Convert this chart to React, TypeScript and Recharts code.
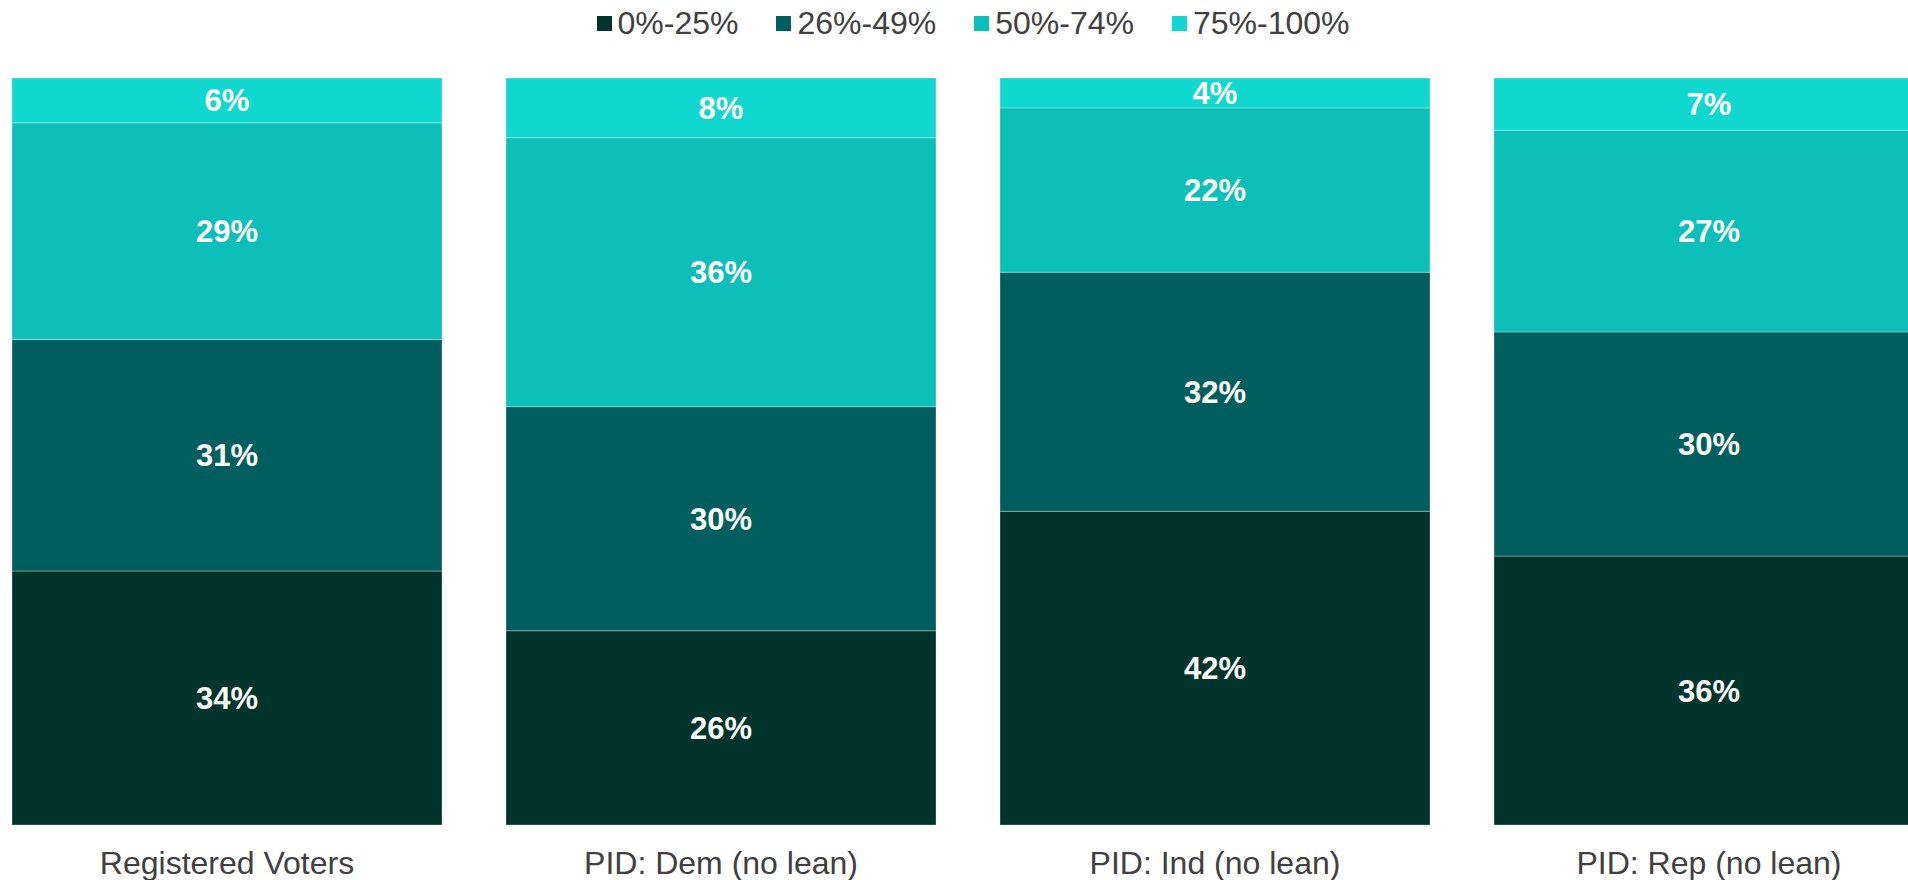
import { BarChart, Bar, XAxis, YAxis, Legend, LabelList } from 'recharts';

const groups = ['Registered Voters', 'PID: Dem (no lean)', 'PID: Ind (no lean)', 'PID: Rep (no lean)'];
const share0to25 = [34, 26, 42, 36];
const share26to49 = [31, 30, 32, 30];
const share50to74 = [29, 36, 22, 27];
const share75to100 = [6, 8, 4, 7];
const seriesNames = ['0%-25%', '26%-49%', '50%-74%', '75%-100%'];
const seriesKeys = ['s0', 's1', 's2', 's3'];
const seriesColors = ['#01342A', '#005F5E', '#0CBFB9', '#10D8CF'];

const FONT = '"Liberation Sans", Arial, sans-serif';

const data = groups.map((name, i) => ({
  name,
  s0: share0to25[i],
  s1: share26to49[i],
  s2: share50to74[i],
  s3: share75to100[i],
}));

const LegendRow = (props: any) => {
  const items = props.payload || [];
  return (
    <div style={{ height: 78, boxSizing: 'border-box', paddingLeft: 10 }}>
      <div style={{ height: 46, display: 'flex', justifyContent: 'center', alignItems: 'center' }}>
        {items.map((item: any, i: number) => (
          <div key={item.value} style={{ display: 'flex', alignItems: 'center', marginLeft: i === 0 ? 0 : 38 }}>
            <span style={{ width: 15, height: 15, background: item.color, display: 'inline-block', marginRight: 6 }} />
            <span style={{ fontSize: 32, color: '#404040', lineHeight: 1 }}>{item.value}</span>
          </div>
        ))}
      </div>
    </div>
  );
};

const App = () => {
  return (
    <div style={{ position: 'fixed', top: 0, left: 0, width: 1908, height: 880, overflow: 'hidden', background: '#fff', fontFamily: FONT }}>
      <div style={{ position: 'absolute', top: 0, left: -20 }}>
        <BarChart width={1976} height={880} data={data} margin={{ top: 0, right: 0, bottom: 0, left: 0 }} barCategoryGap={32}>
          <XAxis
            dataKey="name"
            height={55}
            axisLine={false}
            tickLine={false}
            tickSize={0}
            tickMargin={26}
            interval={0}
            tick={{ fill: '#404040', fontSize: 32, fontFamily: FONT }}
          />
          <YAxis hide domain={[0, 100]} />
          <Legend verticalAlign="top" align="center" content={LegendRow} />
          {seriesKeys.map((key, i) => (
            <Bar
              key={key}
              dataKey={key}
              name={seriesNames[i]}
              stackId="a"
              fill={seriesColors[i]}
              stroke="rgba(255,255,255,0.3)"
              strokeWidth={1}
              isAnimationActive={false}
            >
              <LabelList
                dataKey={key}
                position="center"
                formatter={(v: any) => `${v}%`}
                fill="#fff"
                style={{ fontSize: 31, fontWeight: 'bold', fontFamily: FONT }}
              />
            </Bar>
          ))}
        </BarChart>
      </div>
    </div>
  );
};

export default App;
